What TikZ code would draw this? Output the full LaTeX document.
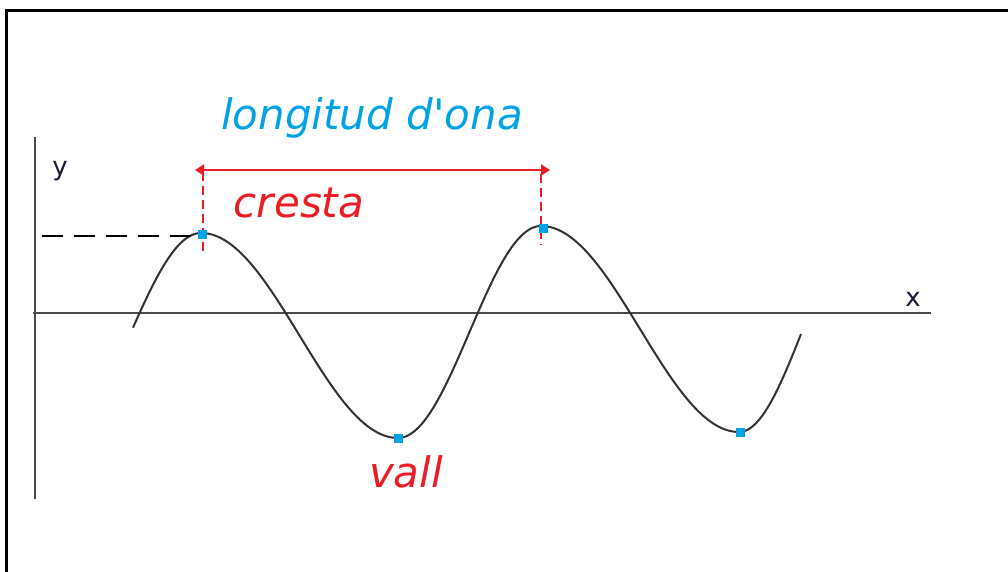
\documentclass[tikz,border=0pt]{standalone}
\usepackage{fontspec}
\setmainfont{DejaVu Sans}
\newfontfamily\handfont{DejaVu Sans}[Ligatures=TeXOff]
\usetikzlibrary{arrows.meta}
\definecolor{paintblue}{HTML}{00A2E8}
\definecolor{paintred}{HTML}{ED1C24}
\definecolor{axisgray}{HTML}{4A4A4A}
\definecolor{wavegray}{HTML}{333333}
\definecolor{labelnavy}{HTML}{1A1A3A}
\tikzset{
  frameline/.style={line width=3pt, black},
  axisline/.style={line width=2.4pt, axisgray},
  waveline/.style={line width=2pt, wavegray, line join=round},
  bluedot/.style={rectangle, fill=paintblue, minimum size=9pt, inner sep=0pt},
  axislabel/.style={font=\fontsize{26}{30}\selectfont, text=labelnavy, inner sep=0pt},
  handtext/.style={font=\handfont\fontsize{42}{48}\selectfont\itshape, inner sep=0pt, anchor=base},
  refdash/.style={line width=2pt, black, dash pattern=on 21pt off 11pt},
  reddash/.style={line width=2pt, paintred, dash pattern=on 9pt off 5pt},
  dimarrow/.style={line width=2.5pt, paintred, {Triangle[length=9pt,width=11pt]}-{Triangle[length=9pt,width=11pt]}}
}
\begin{document}
\begin{tikzpicture}[x=1pt,y=-1pt]
\useasboundingbox (0,0) rectangle (1008,572);
\fill[white] (0,0) rectangle (1008,572);
% frame
\draw[frameline] (6.5,574) -- (6.5,11) -- (1010,11);
% axes
\coordinate (ytop) at (35,137);
\coordinate (ybot) at (35,499);
\coordinate (xleft) at (33,313);
\coordinate (xright) at (931,313);
\draw[axisline] (ybot) -- (ytop);
\draw[axisline] (xleft) -- (xright);
\node[axislabel] (ylab) at (60,171) {y};
\node[axislabel] (xlab) at (913,299) {x};
% wave
\draw[waveline]
  plot[domain=133:201,samples=30] (\x,{335.5-102.5*cos((\x-201)/143*180)})
  -- plot[domain=201:398,samples=60] (\x,{335.5-102.5*cos((\x-201)/197*180)})
  -- plot[domain=398:541,samples=50] (\x,{332+106*cos((\x-398)/143*180)})
  -- plot[domain=541:739,samples=60] (\x,{329-103*cos((\x-541)/198*180)})
  -- plot[domain=739:801,samples=30] (\x,{329+103*cos((\x-739)/128*180)});
% reference dashed line
\coordinate (yref) at (42,236);
\coordinate (c1ref) at (200,236);
\draw[refdash] (yref) -- (c1ref);
% red dashed verticals
\coordinate (dl1) at (203,172);
\coordinate (dl2) at (203,253);
\coordinate (dr1) at (541,174);
\coordinate (dr2) at (541,245);
\draw[reddash] (dl1) -- (dl2);
\draw[reddash] (dr1) -- (dr2);
% blue points
\node[bluedot] (c1) at (202,234) {};
\node[bluedot] (t1) at (398,438) {};
\node[bluedot] (c2) at (543,228) {};
\node[bluedot] (t2) at (740,432) {};
% wavelength arrow
\coordinate (arrL) at (195,170);
\coordinate (arrR) at (550,170);
\draw[dimarrow] (arrL) -- (arrR);
% texts
\node[handtext, text=paintblue] (lambda) at (372,130) {longitud d'ona};
\node[handtext, text=paintred] (cresta) at (299,217) {cresta};
\node[handtext, text=paintred] (vall) at (406,487) {vall};
\end{tikzpicture}
\end{document}
